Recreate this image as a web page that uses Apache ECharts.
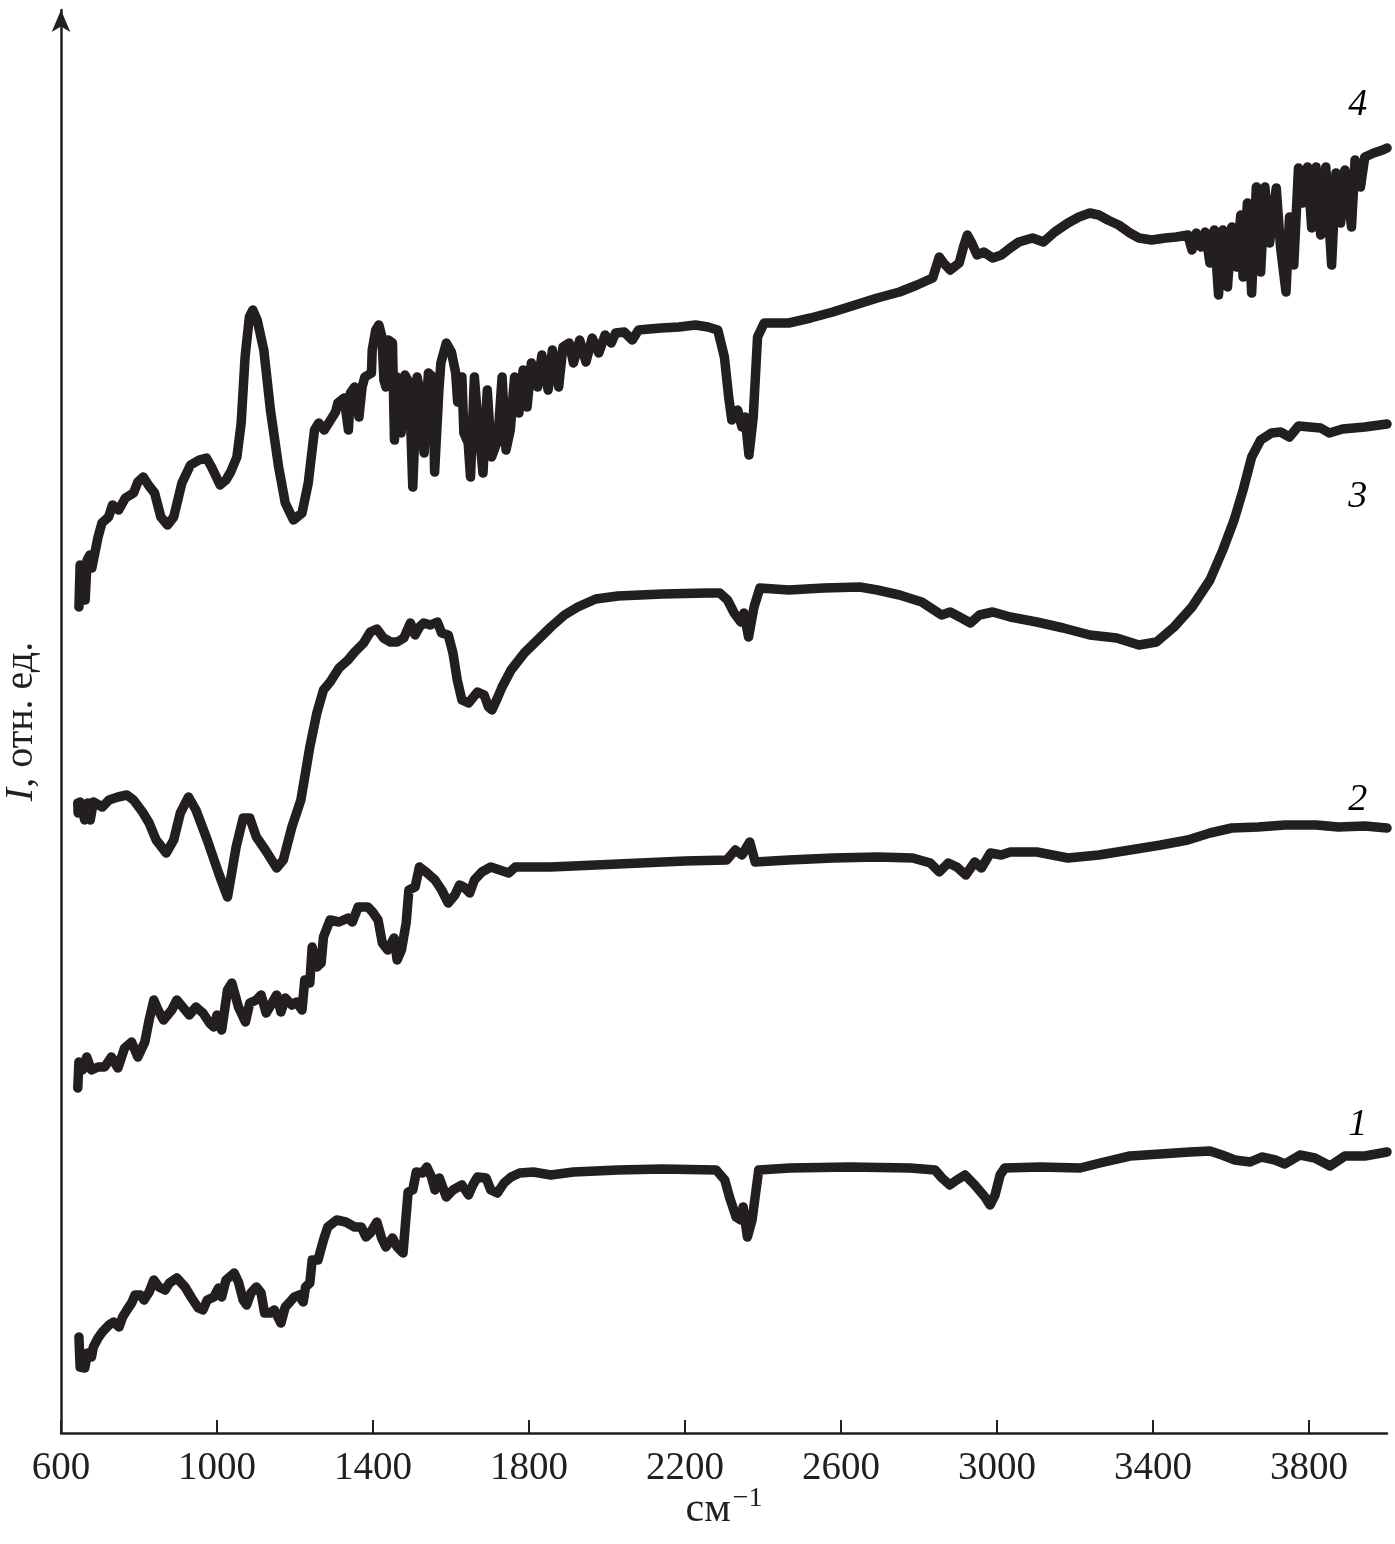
<!DOCTYPE html>
<html>
<head>
<meta charset="utf-8">
<script src="https://cdn.jsdelivr.net/npm/echarts@6/dist/echarts.min.js"></script>
<style>
html,body{margin:0;padding:0;background:#fff;}
#chart{width:1395px;height:1544px;}
</style>
</head>
<body>
<div id="chart"></div>
<script>
// wavenumber (cm^-1), intensity (rel. units)
const curve1 = [[646,9.6],[649,6.6],[661,6.5],[668,8.0],[678,7.6],[683,8.6],[695,9.5],[706,10.1],[723,10.8],[735,11.1],[749,10.6],[758,11.6],[769,12.3],[781,13.0],[790,13.8],[804,13.8],[813,13.3],[826,14.1],[838,15.3],[851,14.6],[867,14.3],[878,15.0],[897,15.5],[918,14.6],[935,13.5],[952,12.5],[964,12.3],[975,13.3],[992,13.6],[1004,14.5],[1012,13.6],[1023,15.3],[1044,16.0],[1055,15.1],[1067,13.3],[1076,12.8],[1087,14.0],[1101,14.6],[1113,14.0],[1122,12.0],[1136,12.0],[1147,12.3],[1164,11.0],[1175,12.6],[1187,13.1],[1198,13.6],[1210,13.8],[1221,13.1],[1227,14.6],[1238,15.0],[1244,17.3],[1259,17.3],[1273,19.3],[1284,20.6],[1307,21.3],[1330,21.1],[1353,20.6],[1370,20.6],[1382,19.6],[1393,20.0],[1410,21.1],[1422,19.5],[1433,18.6],[1450,19.5],[1462,18.6],[1477,18.0],[1490,24.1],[1502,24.3],[1511,26.1],[1527,26.0],[1538,26.6],[1550,25.6],[1559,24.3],[1570,25.5],[1588,23.6],[1605,24.3],[1628,24.8],[1645,23.8],[1656,24.8],[1668,25.6],[1690,25.5],[1702,24.3],[1719,24.0],[1736,25.0],[1754,25.6],[1776,26.0],[1811,26.1],[1856,25.8],[1914,26.1],[2028,26.3],[2143,26.4],[2280,26.3],[2302,25.3],[2314,23.6],[2331,21.6],[2343,21.3],[2349,22.6],[2360,19.6],[2372,21.3],[2389,26.3],[2469,26.5],[2623,26.6],[2777,26.5],[2841,26.3],[2859,25.5],[2879,24.8],[2897,25.3],[2918,25.8],[2943,24.8],[2969,23.6],[2982,22.8],[2995,23.8],[3008,25.8],[3020,26.5],[3110,26.6],[3213,26.5],[3264,27.0],[3341,27.7],[3418,27.9],[3495,28.1],[3546,28.2],[3577,27.8],[3610,27.3],[3649,27.1],[3679,27.6],[3713,27.3],[3738,26.9],[3777,27.8],[3815,27.5],[3854,26.7],[3892,27.7],[3943,27.7],[4000,28.1]];

const curve2 = [[643,34.5],[646,37.1],[655,36.3],[666,37.6],[678,36.3],[695,36.6],[712,36.6],[729,37.6],[746,36.5],[763,38.5],[781,39.1],[797,37.6],[815,39.1],[826,41.3],[838,43.3],[849,42.3],[863,41.3],[884,42.3],[897,43.3],[912,42.6],[929,41.8],[946,42.6],[964,42.0],[981,41.0],[992,40.6],[1000,41.8],[1012,40.3],[1027,44.3],[1038,45.0],[1055,42.6],[1073,41.1],[1084,43.0],[1101,43.3],[1113,43.8],[1126,42.0],[1141,43.0],[1153,43.8],[1164,42.1],[1175,43.5],[1192,42.8],[1204,43.1],[1218,42.3],[1225,45.3],[1238,45.0],[1244,48.6],[1256,46.6],[1267,47.0],[1273,49.6],[1290,51.3],[1313,51.1],[1336,51.5],[1347,51.1],[1362,52.6],[1387,52.6],[1399,52.1],[1413,51.3],[1424,49.0],[1438,48.3],[1454,49.5],[1462,47.3],[1473,48.3],[1485,51.0],[1492,54.3],[1508,54.6],[1519,56.6],[1536,56.1],[1559,55.3],[1576,54.3],[1593,53.0],[1610,53.8],[1622,54.8],[1633,54.6],[1648,54.0],[1660,55.3],[1679,56.1],[1702,56.6],[1725,56.3],[1748,56.0],[1765,56.6],[1856,56.6],[1971,56.8],[2086,57.0],[2200,57.2],[2307,57.3],[2329,58.3],[2346,57.8],[2366,59.1],[2380,57.1],[2466,57.3],[2579,57.5],[2693,57.6],[2784,57.5],[2829,57.0],[2852,56.1],[2875,57.0],[2897,56.6],[2920,55.8],[2943,57.1],[2960,56.5],[2983,58.0],[3011,57.8],[3034,58.1],[3102,58.1],[3182,57.5],[3261,57.8],[3341,58.3],[3420,58.8],[3489,59.3],[3546,60.0],[3602,60.5],[3670,60.6],[3738,60.8],[3818,60.8],[3875,60.6],[3943,60.7],[4000,60.5]];

const curve3 = [[643,63.0],[644,62.0],[649,63.1],[661,61.3],[668,63.0],[675,61.3],[683,63.1],[706,62.6],[723,63.3],[746,63.6],[769,63.8],[786,63.3],[809,62.1],[826,61.0],[844,59.3],[870,58.0],[889,59.3],[906,62.0],[927,63.6],[946,62.3],[975,59.3],[1004,56.0],[1027,53.6],[1049,58.6],[1067,61.5],[1084,61.5],[1101,59.6],[1124,58.3],[1153,56.5],[1170,57.3],[1192,60.6],[1215,63.3],[1238,68.6],[1256,72.0],[1273,74.3],[1290,75.1],[1313,76.5],[1336,77.3],[1353,78.1],[1376,79.0],[1393,80.1],[1410,80.4],[1427,79.5],[1445,79.1],[1462,79.1],[1479,79.5],[1496,81.0],[1508,79.8],[1519,80.6],[1530,81.0],[1547,80.8],[1565,81.1],[1576,80.0],[1593,79.8],[1605,78.0],[1616,75.3],[1628,73.3],[1645,73.0],[1668,74.1],[1685,73.8],[1696,72.6],[1705,72.3],[1719,73.5],[1731,74.6],[1754,76.3],[1788,78.0],[1822,79.3],[1856,80.6],[1891,81.8],[1925,82.6],[1971,83.4],[2028,83.7],[2143,83.9],[2257,84.0],[2289,84.0],[2309,83.3],[2326,82.0],[2343,81.1],[2351,82.0],[2363,79.6],[2377,82.6],[2392,84.5],[2466,84.3],[2556,84.5],[2648,84.6],[2693,84.3],[2750,83.8],[2807,83.1],[2858,81.8],[2880,82.1],[2909,81.5],[2932,81.0],[2955,81.8],[2989,82.1],[3034,81.6],[3102,81.1],[3170,80.5],[3238,79.8],[3307,79.5],[3364,78.8],[3409,79.1],[3454,80.6],[3500,82.6],[3546,85.3],[3579,88.3],[3608,91.3],[3631,94.3],[3653,97.6],[3676,99.3],[3704,100.0],[3727,100.1],[3750,99.6],[3773,100.7],[3830,100.5],[3852,100.0],[3886,100.4],[3943,100.6],[4000,100.9]];

const curve4 = [[646,82.6],[649,86.8],[656,86.1],[662,83.3],[667,87.3],[674,87.8],[679,86.5],[695,89.6],[705,91.0],[722,91.6],[732,92.8],[748,92.3],[765,93.5],[786,94.0],[797,95.1],[811,95.6],[824,94.8],[840,94.0],[856,91.6],[873,90.8],[889,91.6],[910,95.0],[932,96.8],[954,97.3],[973,97.5],[986,96.6],[1008,94.8],[1023,95.3],[1035,96.1],[1051,97.6],[1062,101.0],[1072,107.6],[1083,111.6],[1092,112.3],[1103,111.3],[1120,108.3],[1137,102.3],[1158,96.6],[1175,93.0],[1196,91.3],[1218,92.0],[1234,95.0],[1250,100.3],[1261,101.0],[1275,100.3],[1288,101.1],[1304,102.1],[1310,103.0],[1326,103.5],[1337,100.3],[1342,104.0],[1353,104.6],[1364,101.6],[1372,104.6],[1379,105.6],[1396,106.0],[1398,108.3],[1407,110.3],[1415,110.8],[1423,109.6],[1428,105.3],[1433,104.6],[1439,109.3],[1450,109.0],[1455,99.3],[1461,105.6],[1472,100.0],[1482,105.8],[1493,105.0],[1502,94.6],[1513,105.6],[1520,104.3],[1531,98.0],[1542,106.0],[1553,105.6],[1558,96.1],[1569,104.3],[1574,107.0],[1588,109.0],[1601,108.1],[1612,106.0],[1617,103.1],[1628,105.6],[1633,100.0],[1644,99.0],[1650,95.6],[1660,105.6],[1666,102.6],[1682,96.0],[1693,104.3],[1704,97.6],[1720,99.3],[1731,105.6],[1741,98.3],[1752,100.3],[1763,105.6],[1774,102.0],[1785,106.3],[1795,102.6],[1806,107.0],[1822,104.6],[1833,107.8],[1849,104.3],[1860,108.3],[1876,104.6],[1887,108.6],[1903,109.0],[1914,107.0],[1930,109.3],[1946,107.1],[1962,109.5],[1979,108.0],[1995,109.8],[2011,109.0],[2022,110.0],[2044,110.1],[2065,109.3],[2081,110.3],[2108,110.4],[2140,110.5],[2184,110.6],[2227,110.8],[2259,110.6],[2284,110.3],[2301,107.6],[2312,103.6],[2320,101.3],[2335,102.3],[2346,100.6],[2354,101.6],[2364,97.8],[2375,101.6],[2386,109.6],[2403,111.0],[2466,111.0],[2522,111.5],[2579,112.1],[2636,112.8],[2693,113.5],[2750,114.1],[2795,114.8],[2835,115.5],[2852,117.6],[2863,117.0],[2880,116.3],[2903,117.0],[2914,118.6],[2924,119.8],[2934,119.1],[2949,117.8],[2966,118.1],[2989,117.5],[3011,117.8],[3034,118.5],[3056,119.1],[3091,119.5],[3119,119.1],[3148,120.1],[3182,121.0],[3210,121.6],[3238,122.0],[3261,121.8],[3284,121.3],[3312,120.8],[3341,120.0],[3364,119.5],[3397,119.3],[3432,119.5],[3460,119.6],[3489,119.8],[3500,118.3],[3511,120.0],[3523,118.6],[3534,120.1],[3546,117.0],[3557,120.3],[3568,113.8],[3579,120.3],[3591,114.6],[3602,120.6],[3614,116.6],[3625,121.8],[3631,115.6],[3642,123.0],[3653,114.0],[3665,124.6],[3676,116.1],[3687,124.6],[3699,119.0],[3716,124.5],[3727,118.6],[3741,114.1],[3750,121.6],[3761,116.8],[3773,126.5],[3784,123.0],[3796,126.6],[3807,120.5],[3818,126.6],[3830,119.8],[3843,126.6],[3858,116.8],[3869,126.0],[3881,121.0],[3892,126.3],[3909,120.6],[3918,127.3],[3932,124.6],[3943,127.6],[3966,128.0],[3989,128.3],[4000,128.5]];

const curveNames = ['1', '2', '3', '4'];
const xTickValues = [600, 1000, 1400, 1800, 2200, 2600, 3000, 3400, 3800];
const xRange = [600, 4000];
const yRange = [0, 142.3];
// label anchor points for curve numbers (data coords)
const curveLabelAt = [[3925, 30.8], [3925, 63.3], [3925, 93.6], [3925, 132.8]];

const INK = '#231f20';
const chart = echarts.init(document.getElementById('chart'), null, {renderer: 'canvas'});

const allCurves = [curve1, curve2, curve3, curve4];
const series = allCurves.map((c, i) => ({
  type: 'line',
  name: curveNames[i],
  data: c,
  showSymbol: false,
  symbol: 'none',
  lineStyle: {color: INK, width: 9.5, cap: 'round', join: 'round', opacity: 1},
  silent: true,
  animation: false,
  z: 3
}));
// curve number labels as scatter points with text only
series.push({
  type: 'scatter',
  data: curveLabelAt.map((p, i) => ({value: p, label: {formatter: curveNames[i]}})),
  symbolSize: 1,
  itemStyle: {opacity: 0},
  silent: true,
  animation: false,
  label: {
    show: true,
    position: 'inside',
    fontFamily: 'Liberation Serif',
    fontStyle: 'italic',
    fontSize: 38,
    color: '#000000',
    opacity: 1
  }
});

const option = {
  backgroundColor: '#ffffff',
  animation: false,
  grid: {left: 61, right: 8, top: 10, bottom: 111, containLabel: false, outerBoundsMode: 'none'},
  xAxis: {
    type: 'value',
    min: xRange[0],
    max: xRange[1],
    interval: 400,
    name: '{a|см}{b|−1}',
    nameLocation: 'middle',
    nameGap: 52,
    nameMoveOverlap: false,
    nameTextStyle: {
      rich: {
        a: {fontFamily: 'Liberation Serif', fontSize: 42, color: INK, verticalAlign: 'bottom'},
        b: {fontFamily: 'Liberation Serif', fontSize: 28, color: INK, verticalAlign: 'top', padding: [0, 0, 18, 2]}
      }
    },
    axisLine: {show: true, onZero: false, lineStyle: {color: INK, width: 2.5}},
    axisTick: {show: true, inside: true, length: 13, customValues: xTickValues, lineStyle: {color: INK, width: 2}},
    axisLabel: {
      show: true, customValues: xTickValues, margin: 16,
      formatter: v => String(v),
      fontFamily: 'Liberation Serif', fontSize: 39, color: INK
    },
    splitLine: {show: false}
  },
  yAxis: {
    type: 'value',
    min: yRange[0],
    max: yRange[1],
    name: '{i|I}{r|, отн. ед.}',
    nameLocation: 'middle',
    nameGap: 20,
    nameRotate: 90,
    nameMoveOverlap: false,
    nameTextStyle: {
      rich: {
        i: {fontFamily: 'Liberation Serif', fontStyle: 'italic', fontSize: 40, color: INK},
        r: {fontFamily: 'Liberation Serif', fontSize: 40, color: INK}
      }
    },
    axisLine: {show: true, onZero: false, symbol: ['none', 'arrow'], symbolSize: [14, 22], symbolOffset: [0, 0], lineStyle: {color: INK, width: 2.5}},
    axisTick: {show: false},
    axisLabel: {show: false},
    splitLine: {show: false}
  },
  series: series
};
chart.setOption(option);
</script>
</body>
</html>
